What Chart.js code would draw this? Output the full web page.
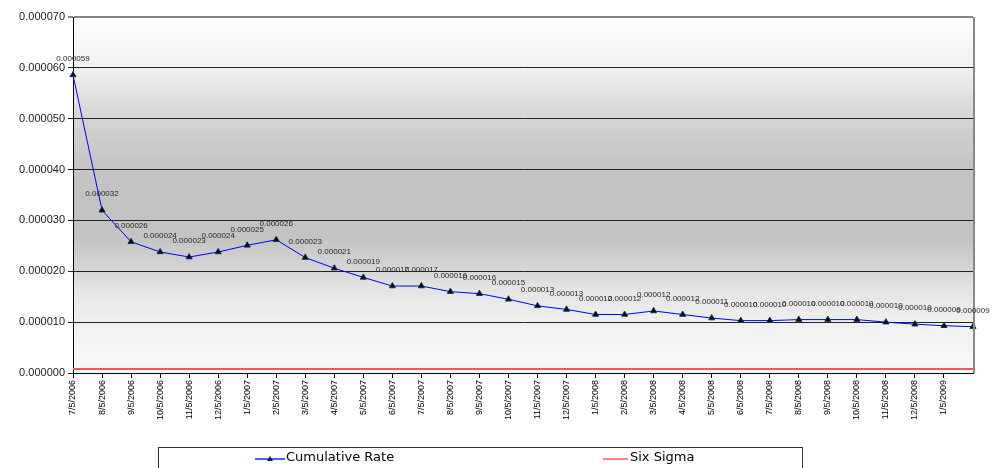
<!DOCTYPE html>
<html>
<head>
<meta charset="utf-8">
<script src="https://cdn.jsdelivr.net/npm/chart.js@4"></script>
<style>
  html, body { margin: 0; padding: 0; background: #fff; }
  #wrap { width: 998px; height: 468px; }
</style>
</head>
<body>
<div id="wrap"><canvas id="rateChart" width="998" height="468"></canvas></div>
<script>
const dates = ['7/5/2006', '8/5/2006', '9/5/2006', '10/5/2006', '11/5/2006', '12/5/2006',
  '1/5/2007', '2/5/2007', '3/5/2007', '4/5/2007', '5/5/2007', '6/5/2007', '7/5/2007',
  '8/5/2007', '9/5/2007', '10/5/2007', '11/5/2007', '12/5/2007', '1/5/2008', '2/5/2008',
  '3/5/2008', '4/5/2008', '5/5/2008', '6/5/2008', '7/5/2008', '8/5/2008', '9/5/2008',
  '10/5/2008', '11/5/2008', '12/5/2008', '1/5/2009', '2/5/2009'];

const cumulativeRate = [0.0000586, 0.0000320, 0.0000258, 0.0000238, 0.0000228, 0.0000238,
  0.0000251, 0.0000262, 0.0000227, 0.0000206, 0.0000188, 0.0000171, 0.0000171,
  0.0000160, 0.0000156, 0.0000145, 0.0000132, 0.0000125, 0.0000115, 0.0000115,
  0.0000122, 0.0000115, 0.0000108, 0.0000103, 0.0000103, 0.0000105, 0.0000105,
  0.0000105, 0.0000100, 0.0000096, 0.0000093, 0.0000091];

const sixSigma = dates.map(() => 0.0000008);

const yTicks = [0, 0.00001, 0.00002, 0.00003, 0.00004, 0.00005, 0.00006, 0.00007];

// plot area gradient + right border
const backdrop = {
  id: 'backdrop',
  beforeDraw(chart) {
    const { ctx, chartArea: a } = chart;
    const g = ctx.createLinearGradient(0, a.top, 0, a.bottom);
    g.addColorStop(0, '#fdfdfd');
    g.addColorStop(0.143, '#f1f1f1');
    g.addColorStop(0.286, '#d4d4d4');
    g.addColorStop(0.43, '#c3c3c3');
    g.addColorStop(0.62, '#c3c3c3');
    g.addColorStop(0.71, '#d6d6d6');
    g.addColorStop(0.76, '#e4e4e4');
    g.addColorStop(0.86, '#f0f0f0');
    g.addColorStop(1, '#f9f9f9');
    ctx.save();
    ctx.fillStyle = g;
    ctx.fillRect(a.left, a.top, a.right - a.left, a.bottom - a.top);
    ctx.restore();
  },
  afterDatasetsDraw(chart) {
    const { ctx, chartArea: a } = chart;
    ctx.save();
    ctx.strokeStyle = '#888';
    ctx.lineWidth = 2;
    ctx.beginPath();
    ctx.moveTo(a.right + 1, a.top);
    ctx.lineTo(a.right + 1, a.bottom);
    ctx.stroke();
    ctx.restore();
  }
};

// value labels above the rate points
const valueLabels = {
  id: 'valueLabels',
  afterDatasetsDraw(chart) {
    const { ctx } = chart;
    const meta = chart.getDatasetMeta(0);
    ctx.save();
    ctx.font = '8px "Liberation Sans", Arial, sans-serif';
    ctx.fillStyle = '#2a2a2a';
    ctx.textAlign = 'center';
    ctx.textBaseline = 'middle';
    meta.data.forEach((pt, i) => {
      ctx.fillText(cumulativeRate[i].toFixed(6), pt.x, pt.y - 16);
    });
    ctx.restore();
  }
};

// boxed legend at the bottom
const boxLegend = {
  id: 'boxLegend',
  afterDraw(chart) {
    const { ctx } = chart;
    ctx.save();
    ctx.strokeStyle = '#333';
    ctx.lineWidth = 1;
    ctx.strokeRect(158.5, 447.5, 644, 30);
    ctx.font = '13px "DejaVu Sans", sans-serif';
    ctx.textBaseline = 'middle';
    // Cumulative Rate
    ctx.lineWidth = 1.5;
    ctx.strokeStyle = '#2020ff';
    ctx.beginPath(); ctx.moveTo(255, 459); ctx.lineTo(285, 459); ctx.stroke();
    ctx.fillStyle = '#0a2030';
    ctx.beginPath(); ctx.moveTo(270, 456); ctx.lineTo(273, 461); ctx.lineTo(267, 461); ctx.closePath(); ctx.fill();
    ctx.fillStyle = '#000';
    ctx.fillText('Cumulative Rate', 286, 458);
    // Six Sigma
    ctx.strokeStyle = '#ff5a5a';
    ctx.beginPath(); ctx.moveTo(603, 459); ctx.lineTo(628, 459); ctx.stroke();
    ctx.fillText('Six Sigma', 630, 458);
    ctx.restore();
  }
};

new Chart(document.getElementById('rateChart'), {
  type: 'line',
  data: {
    labels: dates,
    datasets: [{
      label: 'Cumulative Rate',
      data: cumulativeRate,
      borderColor: '#0000ff',
      borderWidth: 1,
      pointStyle: 'triangle',
      pointRadius: 3.5,
      pointBackgroundColor: '#000',
      pointBorderColor: '#0b3a4a',
      pointBorderWidth: 1,
      tension: 0
    }, {
      label: 'Six Sigma',
      data: sixSigma,
      borderColor: '#f05a5a',
      borderWidth: 2,
      pointRadius: 0
    }]
  },
  options: {
    responsive: false,
    animation: false,
    layout: { padding: { top: 17, right: 25, left: 0, bottom: 0 } },
    plugins: {
      legend: { display: false },
      tooltip: { enabled: false }
    },
    scales: {
      x: {
        offset: false,
        afterFit: s => { s.height = 95; },
        border: { color: '#000', width: 1 },
        grid: { drawOnChartArea: false, drawTicks: true, tickLength: 5, color: '#000' },
        ticks: {
          autoSkip: false,
          maxRotation: 90,
          minRotation: 90,
          padding: 2,
          color: '#000',
          font: { family: '"Liberation Sans", Arial, sans-serif', size: 9 },
          callback: (v, i) => i === dates.length - 1 ? null : dates[i]
        }
      },
      y: {
        min: 0,
        max: 0.00007,
        afterFit: s => { s.width = 73; },
        afterBuildTicks: s => { s.ticks = yTicks.map(v => ({ value: v })); },
        border: { color: '#000', width: 1 },
        grid: {
          color: ctx => ctx.index === yTicks.length - 1 ? '#888' : '#222',
          lineWidth: ctx => ctx.index === yTicks.length - 1 ? 2 : 1,
          tickLength: 5
        },
        ticks: {
          color: '#222',
          padding: 3,
          font: { family: '"Liberation Sans", Arial, sans-serif', size: 11 },
          callback: v => Number(v).toFixed(6)
        }
      }
    }
  },
  plugins: [backdrop, valueLabels, boxLegend]
});
</script>
</body>
</html>
